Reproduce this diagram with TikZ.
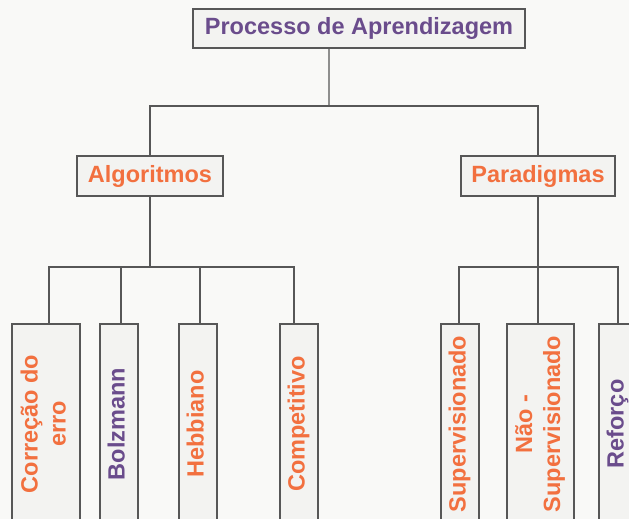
\documentclass[tikz,border=0pt]{standalone}
\usepackage{fontspec}
\usepackage{graphicx}
\setmainfont{Liberation Sans}
\definecolor{bgc}{HTML}{F9F9F7}
\definecolor{boxc}{HTML}{F3F3F1}
\definecolor{linec}{HTML}{575757}
\definecolor{orng}{HTML}{F2703F}
\definecolor{purp}{HTML}{6A4C8C}
\newcommand{\rtxt}[1]{\rotatebox{90}{\begin{tabular}{@{}c@{}}#1\end{tabular}}}
\tikzset{
  box/.style={draw=linec, line width=1.3bp, fill=boxc, inner sep=0pt,
    font=\fontsize{23.5bp}{28bp}\selectfont\bfseries},
  leaf/.style={box, minimum height=200bp},
  conn/.style={draw=linec, line width=1.3bp},
}
\begin{document}
\begin{tikzpicture}[x=1bp,y=-1bp]
\fill[bgc] (0,0) rectangle (629,519);
\useasboundingbox (0,0) rectangle (629,519);
\clip (0,0) rectangle (629,519);
% top level
\node[box, text=purp, minimum width=332bp, minimum height=39bp] (top) at (359,28.5) {Processo de Aprendizagem};
\node[box, text=orng, minimum width=146bp, minimum height=40bp] (alg) at (150,176) {Algoritmos};
\node[box, text=orng, minimum width=154bp, minimum height=40bp] (par) at (538,176) {Paradigmas};
% leaves
\node[leaf, text=orng, minimum width=68bp] (corr) at (46,424) {\rtxt{Correção do\\erro}};
\node[leaf, text=purp, minimum width=38bp] (bolz) at (119,424) {\rtxt{Bolzmann}};
\node[leaf, text=orng, minimum width=38bp] (hebb) at (198,424) {\rtxt{Hebbiano}};
\node[leaf, text=orng, minimum width=38bp] (comp) at (299,424) {\rtxt{Competitivo}};
\node[leaf, text=orng, minimum width=38bp] (sup) at (460,424) {\rtxt{Supervisionado}};
\node[leaf, text=orng, minimum width=67bp] (nao) at (540.5,424) {\rtxt{Não -\\Supervisionado}};
\node[leaf, text=purp, minimum width=38bp] (ref) at (618,424) {\rtxt{Reforço}};
% junctions
\coordinate (j0) at (329,106);
\coordinate (ja) at (150,267);
\coordinate (jp) at (538,267);
% connectors
\draw[conn] ([xshift=-30bp]top.south) -- (j0);
\draw[conn] (alg.north) |- (par.north |- j0) -- (par.north);
\draw[conn] (alg.south) -- (ja);
\draw[conn] ([xshift=3bp]corr.north) |- ([xshift=-5bp]comp.north |- ja) -- ([xshift=-5bp]comp.north);
\draw[conn] ([xshift=2bp]bolz.north) -- ([xshift=2bp]bolz.north |- ja);
\draw[conn] ([xshift=2bp]hebb.north) -- ([xshift=2bp]hebb.north |- ja);
\draw[conn] (par.south) -- (jp);
\draw[conn] ([xshift=-1bp]sup.north) |- (ref.north |- jp) -- (ref.north);
\draw[conn] ([xshift=-2.5bp]nao.north) -- ([xshift=-2.5bp]nao.north |- jp);
\end{tikzpicture}
\end{document}
